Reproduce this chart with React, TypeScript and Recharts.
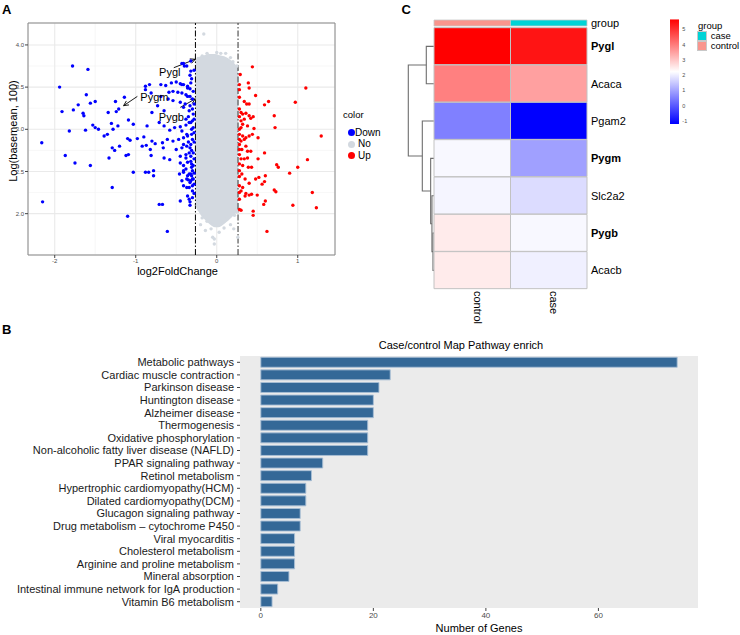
import React from 'react';
import {
  ComposedChart, ScatterChart, BarChart, Bar, Scatter, Area, XAxis, YAxis,
  CartesianGrid, ReferenceLine, ReferenceArea, ReferenceDot, Cell,
} from 'recharts';

const FONT = '"Liberation Sans", Arial, Helvetica, sans-serif';

// ---------------- Panel A : volcano-like scatter ----------------
const volcanoXTicks = [-2, -1, 0, 1];
const volcanoYTicks = [2, 2.5, 3, 3.5, 4];
const volcanoMinorX = [-1.5, -0.5, 0.5];
const volcanoMinorY = [2.25, 2.75, 3.25, 3.75];
const volcanoXDomain = [-2.33, 1.46];
const volcanoYDomain = [1.51, 4.26];
const foldThreshold = 0.263;

const downPoints: number[][] = [
  [-1.78, 3.75], [-1.59, 3.71], [-1.94, 3.5], [-1.61, 3.41], [-1.71, 3.29], [-1.56, 3.31], [-1.5, 3.33],
  [-1.91, 3.21], [-1.77, 3.23], [-1.65, 3.19], [-1.64, 3.16], [-1.25, 3.33], [-1.14, 3.38], [-1.34, 3.2],
  [-1.24, 3.21], [-1.21, 3.24], [-1.53, 3.05], [-1.5, 3.02], [-1.46, 3.0], [-1.82, 2.98], [-1.62, 2.99],
  [-1.3, 3.07], [-1.22, 3.04], [-1.28, 3.0], [-1.09, 3.11], [-1.03, 3.06], [-1.39, 2.92], [-1.35, 2.94],
  [-1.1, 2.89], [-1.07, 2.87], [-0.98, 2.89], [-2.16, 2.84], [-1.29, 2.78], [-1.26, 2.75], [-1.2, 2.8],
  [-1.33, 2.66], [-1.12, 2.69], [-1.09, 2.7], [-1.87, 2.69], [-1.75, 2.6], [-1.56, 2.57], [-1.03, 2.49],
  [-1.29, 2.31], [-2.15, 2.14], [-1.1, 1.97],
  [-0.43, 3.78], [-0.4, 3.75], [-0.32, 3.69], [-0.33, 3.64], [-0.31, 3.6],
  [-0.88, 3.51], [-0.83, 3.53], [-0.69, 3.53], [-0.63, 3.52], [-0.56, 3.55], [-0.5, 3.56],
  [-0.45, 3.54], [-0.41, 3.53], [-0.36, 3.51], [-0.33, 3.48],
  [-0.59, 3.44], [-0.54, 3.45], [-0.48, 3.44], [-0.43, 3.43], [-0.38, 3.41], [-0.33, 3.39],
  [-0.6, 3.36], [-0.54, 3.34], [-0.45, 3.32], [-0.39, 3.3], [-0.33, 3.28], [-0.3, 3.24],
  [-0.88, 3.47], [-0.81, 3.43], [-0.69, 3.39], [-0.73, 3.28], [-0.65, 3.22], [-0.8, 3.2],
  [-0.86, 3.04],
  [-0.71, 3.08], [-0.65, 3.04], [-0.58, 2.99], [-0.52, 3.02], [-0.45, 3.03], [-0.38, 3.05], [-0.34, 3.08], [-0.3, 3.1],
  [-0.9, 2.91],
  [-0.8, 2.86], [-0.76, 2.83], [-0.67, 2.84], [-0.61, 2.88], [-0.54, 2.86], [-0.47, 2.88], [-0.41, 2.9], [-0.36, 2.92], [-0.31, 2.94],
  [-0.92, 2.8], [-0.87, 2.81], [-0.82, 2.76], [-0.66, 2.78], [-0.5, 2.76], [-0.43, 2.78], [-0.37, 2.8], [-0.32, 2.82],
  [-0.81, 2.69], [-0.65, 2.66], [-0.58, 2.64], [-0.45, 2.68], [-0.38, 2.7], [-0.32, 2.68], [-0.34, 2.72],
  [-0.45, 2.6], [-0.41, 2.57], [-0.36, 2.61], [-0.31, 2.59], [-0.38, 2.53], [-0.3, 2.51],
  [-0.88, 2.49], [-0.84, 2.49], [-0.78, 2.51], [-0.78, 2.45], [-0.46, 2.47], [-0.41, 2.49], [-0.36, 2.45], [-0.32, 2.47],
  [-0.43, 2.39], [-0.37, 2.41], [-0.33, 2.37], [-0.3, 2.41], [-0.41, 2.33], [-0.34, 2.31], [-0.3, 2.33],
  [-0.36, 2.21], [-0.3, 2.19], [-0.45, 2.15], [-0.33, 2.14], [-0.33, 2.1],
  [-0.71, 2.11], [-0.67, 2.11], [-0.61, 1.79],
  [-0.41, 3.78], [-0.37, 3.75], [-0.32, 3.81],
  [-0.43, 3.53], [-0.36, 3.49], [-0.32, 3.55], [-0.29, 3.45], [-0.36, 3.39], [-0.3, 3.36],
  [-0.41, 3.26], [-0.34, 3.22], [-0.29, 3.18], [-0.38, 3.12], [-0.32, 3.08], [-0.29, 3.02],
  [-0.43, 2.98], [-0.37, 2.94], [-0.3, 2.88], [-0.41, 2.82], [-0.33, 2.78], [-0.29, 2.72],
  [-0.38, 2.66], [-0.32, 2.62], [-0.29, 2.57], [-0.41, 2.51], [-0.34, 2.47], [-0.29, 2.41],
  [-0.37, 2.31], [-0.3, 2.27], [-0.34, 2.17], [-0.32, 2.39],
  [-0.28, 3.7], [-0.28, 3.3], [-0.28, 3.12], [-0.28, 2.96], [-0.28, 2.85], [-0.28, 2.65], [-0.28, 2.48],
  [-0.28, 2.35], [-0.28, 2.24], [-0.31, 3.0], [-0.31, 2.75], [-0.31, 2.55], [-0.31, 2.45], [-0.35, 2.85],
  [-0.35, 3.15], [-0.35, 2.4],
];

const upPoints: number[][] = [
  [0.44, 3.74], [0.29, 3.65], [0.39, 3.55], [0.28, 3.53], [0.4, 3.49], [0.28, 3.47], [1.1, 3.49], [0.48, 3.4],
  [0.34, 3.33], [0.37, 3.3], [0.4, 3.3], [0.64, 3.33], [0.59, 3.29], [0.97, 3.32],
  [0.28, 3.24], [0.3, 3.2], [0.71, 3.16],
  [0.28, 3.15], [0.32, 3.18], [0.36, 3.19], [0.4, 3.16], [0.45, 3.15], [0.34, 3.12], [0.42, 3.13], [0.3, 3.1],
  [0.32, 3.06], [0.38, 3.04], [0.3, 3.02], [0.46, 3.01], [0.72, 3.02],
  [1.29, 2.92],
  [0.28, 2.94], [0.32, 2.92], [0.36, 2.9], [0.4, 2.92], [0.44, 2.94], [0.51, 2.9], [0.3, 2.86], [0.34, 2.88],
  [0.28, 2.82], [0.36, 2.8], [0.31, 2.76], [0.38, 2.74], [0.42, 2.74],
  [0.59, 2.72],
  [0.28, 2.7], [0.3, 2.65], [0.34, 2.65], [0.38, 2.66], [0.51, 2.65],
  [1.12, 2.64],
  [0.28, 2.59], [0.32, 2.57], [0.39, 2.55], [0.43, 2.55], [0.74, 2.58], [0.76, 2.55], [1.0, 2.55],
  [0.28, 2.51], [0.31, 2.47], [0.9, 2.48],
  [0.6, 2.45], [0.48, 2.41], [0.52, 2.43], [0.35, 2.41], [0.4, 2.36], [0.59, 2.38], [0.56, 2.35],
  [0.28, 2.33], [0.32, 2.31], [0.3, 2.27], [0.36, 2.24], [0.4, 2.22], [0.43, 2.23], [0.35, 2.21], [0.5, 2.22],
  [0.71, 2.28], [0.73, 2.26], [1.18, 2.25],
  [0.28, 2.17], [0.6, 2.15], [0.58, 2.11], [0.94, 2.1], [1.23, 2.07],
  [0.28, 2.05], [0.3, 2.04], [0.45, 2.03], [0.45, 1.98],
  [0.62, 1.79],
  [0.28, 3.38], [0.28, 3.0], [0.28, 2.88], [0.28, 2.76], [0.28, 2.44], [0.28, 2.25],
];

const noPoints: number[][] = [
  [-0.16, 4.13], [0.0, 3.91], [0.11, 3.9], [-0.18, 3.87], [0.17, 3.85], [-0.12, 3.9], [0.05, 3.9],
  [-0.23, 3.84], [0.2, 3.8], [0.25, 3.75],
  [-0.22, 2.05], [-0.18, 1.95], [-0.12, 1.91], [-0.2, 1.87], [-0.03, 1.87], [0.05, 1.91], [0.13, 1.95],
  [0.17, 1.87], [0.21, 1.99], [-0.14, 1.8], [-0.07, 1.82], [0.03, 1.78], [0.09, 1.83], [-0.05, 1.72],
  [-0.03, 1.64], [-0.03, 1.7], [0.26, 1.72], [0.21, 1.82], [-0.24, 2.1], [0.22, 1.98], [0.25, 2.02],
];

const cloudX = [-0.264, -0.22, -0.18, -0.14, -0.1, -0.06, -0.02, 0.02, 0.06, 0.1, 0.14, 0.18, 0.22, 0.264];
const cloudLow = [2.12, 2.04, 1.98, 1.94, 1.9, 1.87, 1.85, 1.85, 1.87, 1.9, 1.93, 1.97, 2.01, 2.05];
const cloudHigh = [3.8, 3.84, 3.86, 3.87, 3.88, 3.88, 3.88, 3.87, 3.86, 3.85, 3.83, 3.8, 3.76, 3.7];

const annotGenes = ['Pygl', 'Pygm', 'Pygb'];
const annotLabelX = [-0.58, -0.77, -0.56];
const annotLabelY = [3.68, 3.385, 3.15];
const arrowFromX = [-0.53, -0.98, -0.45];
const arrowFromY = [3.73, 3.39, 3.26];
const arrowToX = [-0.265, -1.15, -0.265];
const arrowToY = [3.83, 3.28, 3.36];

const legendA = ['Down', 'No', 'Up'];
const colorDown = '#0000FF';
const colorNo = '#D3D9E0';
const colorUp = '#FF0000';

// ---------------- Panel B : pathway bar chart ----------------
const pathwayNames = [
  'Metabolic pathways', 'Cardiac muscle contraction', 'Parkinson disease', 'Huntington disease',
  'Alzheimer disease', 'Thermogenesis', 'Oxidative phosphorylation',
  'Non-alcoholic fatty liver disease (NAFLD)', 'PPAR signaling pathway', 'Retinol metabolism',
  'Hypertrophic cardiomyopathy(HCM)', 'Dilated cardiomyopathy(DCM)', 'Glucagon signaling pathway',
  'Drug metabolism \u2013 cytochrome P450', 'Viral myocarditis', 'Cholesterol metabolism',
  'Arginine and proline metabolism', 'Mineral absorption',
  'Intestinal immune network for IgA production', 'Vitamin B6 metabolism',
];
const pathwayCounts = [74, 23, 21, 20, 20, 19, 19, 19, 11, 9, 8, 8, 7, 7, 6, 6, 6, 5, 3, 2];
const pathwayTicks = [0, 20, 40, 60];
const pathwayDomain = [-3.7, 77.7];

// ---------------- Panel C : heatmap ----------------
const heatGenes = ['Pygl', 'Acaca', 'Pgam2', 'Pygm', 'Slc2a2', 'Pygb', 'Acacb'];
const boldGenes = ['Pygl', 'Pygm', 'Pygb'];
const heatColumns = ['control', 'case'];
const controlExpr = [5.67, 3.95, 0.52, 2.14, 2.1, 2.5, 2.5];
const caseExpr = [5.4, 3.51, -1.2, 0.96, 1.76, 2.14, 2.03];
const heatLegendTicks = [-1, 0, 1, 2, 3, 4, 5];
const groupNames = ['case', 'control'];
const groupColors = ['#00D3D6', '#F9958D'];

// dendrogram: [height, rowPosition] polylines (rows 0..6 top to bottom)
const dendroSegments: number[][][] = [
  [[0, 0], [3.0, 0], [3.0, 1], [0, 1]],
  [[0, 5], [0.4, 5], [0.4, 6], [0, 6]],
  [[0, 4], [0.8, 4], [0.8, 5.5], [0.4, 5.5]],
  [[0, 3], [1.3, 3], [1.3, 4.75], [0.8, 4.75]],
  [[0, 2], [4.55, 2], [4.55, 3.875], [1.3, 3.875]],
  [[3.0, 0.5], [10, 0.5], [10, 2.9375], [4.55, 2.9375]],
];

const heatMin = Math.min(...controlExpr, ...caseExpr);
const heatMax = Math.max(...controlExpr, ...caseExpr);
function heatColor(v: number): string {
  const t = (v - heatMin) / (heatMax - heatMin);
  if (t < 0.5) {
    const c = Math.round(255 * (t / 0.5));
    return `rgb(${c},${c},255)`;
  }
  const c = Math.round(255 * (1 - (t - 0.5) / 0.5));
  return `rgb(255,${c},${c})`;
}

// ---------------- helpers ----------------
const toXY = (arr: number[][]) => arr.map(([x, y]) => ({ x, y }));
const dot = (color: string) => (p: any) => <circle cx={p.cx} cy={p.cy} r={1.7} fill={color} />;

const Arrow = (p: any) => {
  const { x1, y1, x2, y2 } = p;
  const ang = Math.atan2(y2 - y1, x2 - x1);
  const L = 5.5, w = 0.45;
  const a1 = `${x2 - L * Math.cos(ang - w)},${y2 - L * Math.sin(ang - w)}`;
  const a2 = `${x2 - L * Math.cos(ang + w)},${y2 - L * Math.sin(ang + w)}`;
  return (
    <g>
      <line x1={x1} y1={y1} x2={x2} y2={y2} stroke="#000" strokeWidth={0.9} />
      <polyline points={`${a1} ${x2},${y2} ${a2}`} fill="none" stroke="#000" strokeWidth={0.9} />
    </g>
  );
};

const GeneTick = (p: any) => {
  const name = p.payload.value;
  return (
    <text x={p.x} y={p.y} dy="0.36em" textAnchor="start" fontSize={11} fill="#000"
      fontWeight={boldGenes.includes(name) ? 700 : 400}>{name}</text>
  );
};

const PathwayTick = (p: any) => (
  <text x={p.x} y={p.y} dy="0.36em" textAnchor="end" fontSize={11} fill="#1a1a1a">{p.payload.value}</text>
);

const abs = (left: number, top: number, extra: React.CSSProperties = {}): React.CSSProperties => ({
  position: 'absolute', left, top, whiteSpace: 'nowrap', lineHeight: 1, ...extra,
});

export default function App() {
  const cloudData = cloudX.map((x, i) => ({ x, range: [cloudLow[i], cloudHigh[i]] }));
  const pathwayData = pathwayNames.map((name, i) => ({ name, count: pathwayCounts[i] }));
  const heatData = heatGenes.map((gene) => ({ gene, controlCell: 1, caseCell: 1 }));
  const groupData = [{ g: 'group', controlCell: 1, caseCell: 1 }];
  const legendData = [{ k: 'scale', range: [heatMin, heatMax] }];
  const legendAColors = [colorDown, colorNo, colorUp];

  return (
    <div style={{ position: 'absolute', left: 0, top: 0, width: 740, height: 635, background: '#fff', fontFamily: FONT, overflow: 'hidden' }}>
      {/* Panel A */}
      <div style={abs(0, 0)}>
        <ComposedChart width={380} height={290} margin={{ top: 23, right: 45, bottom: 34, left: 27 }}>
          <CartesianGrid verticalValues={volcanoMinorX} horizontalValues={volcanoMinorY} stroke="#F3F3F3" strokeWidth={0.7} />
          <CartesianGrid stroke="#EAEAEA" strokeWidth={1.1} />
          <XAxis type="number" dataKey="x" domain={volcanoXDomain} ticks={volcanoXTicks} allowDataOverflow
            height={1} axisLine={false} tickSize={3} tickMargin={1} tickLine={{ stroke: '#444' }}
            tick={{ fontSize: 6, fill: '#4d4d4d' }} />
          <YAxis type="number" dataKey="y" domain={volcanoYDomain} ticks={volcanoYTicks} allowDataOverflow
            width={1} axisLine={false} tickSize={3} tickMargin={1} tickLine={{ stroke: '#444' }}
            tickFormatter={(v: number) => v.toFixed(1)} tick={{ fontSize: 6, fill: '#4d4d4d' }} />
          <Area data={cloudData} dataKey="range" type="monotone" fill={colorNo} stroke={colorNo}
            fillOpacity={1} strokeWidth={2} dot={false} activeDot={false} isAnimationActive={false} />
          <Scatter data={toXY(noPoints)} dataKey="y" shape={dot(colorNo)} isAnimationActive={false} />
          <Scatter data={toXY(downPoints)} dataKey="y" shape={dot(colorDown)} isAnimationActive={false} />
          <Scatter data={toXY(upPoints)} dataKey="y" shape={dot(colorUp)} isAnimationActive={false} />
          <ReferenceLine x={-foldThreshold} stroke="#000" strokeWidth={1} strokeDasharray="6 2 1.5 2" />
          <ReferenceLine x={foldThreshold} stroke="#333" strokeWidth={1} strokeDasharray="6 2 1.5 2" />
          {annotGenes.map((g, i) => (
            <ReferenceLine key={'ar' + g}
              segment={[{ x: arrowFromX[i], y: arrowFromY[i] }, { x: arrowToX[i], y: arrowToY[i] }]}
              shape={Arrow} />
          ))}
          {annotGenes.map((g, i) => (
            <ReferenceDot key={'lb' + g} x={annotLabelX[i]} y={annotLabelY[i]} r={0}
              shape={(p: any) => (
                <text x={p.cx} y={p.cy} dy="0.36em" textAnchor="middle" fontSize={11} fill="#000">{g}</text>
              )} />
          ))}
          <ReferenceArea x1={volcanoXDomain[0]} x2={volcanoXDomain[1]} y1={volcanoYDomain[0]} y2={volcanoYDomain[1]}
            fill="none" fillOpacity={0} stroke="#8a8a8a" strokeWidth={1} />
        </ComposedChart>
      </div>
      <div style={abs(2, 3, { fontSize: 13, fontWeight: 700 })}>A</div>
      <div style={abs(177.5, 265.5, { fontSize: 11, transform: 'translateX(-50%)' })}>log2FoldChange</div>
      <div style={abs(12.5, 131, { fontSize: 11, transform: 'translate(-50%,-50%) rotate(-90deg)' })}>Log(basemean, 100)</div>
      <div style={abs(343, 109.5, { fontSize: 9.5 })}>color</div>
      {legendA.map((name, i) => (
        <React.Fragment key={name}>
          <div style={abs(347.5, 129.2 + i * 11.5, { width: 7, height: 7, borderRadius: '50%', background: legendAColors[i] })} />
          <div style={abs(i === 0 ? 355 : 358, 127.7 + i * 11.5, { fontSize: 10 })}>{name}</div>
        </React.Fragment>
      ))}

      {/* Panel C */}
      <div style={abs(400, 0)}>
        <ScatterChart width={40} height={300} margin={{ top: 27.7, right: 6, bottom: 11, left: 8.3 }}>
          <XAxis type="number" dataKey="h" domain={[0, 10]} reversed hide />
          <YAxis type="number" dataKey="r" domain={[-0.5, 6.5]} reversed hide />
          {dendroSegments.map((seg, i) => (
            <Scatter key={'d' + i} data={seg.map(([h, r]) => ({ h, r }))} dataKey="r"
              line={{ stroke: '#6e6e6e', strokeWidth: 1.1 }} shape={() => <g />} isAnimationActive={false} />
          ))}
        </ScatterChart>
      </div>
      <div style={abs(400, 0)}>
        <BarChart layout="vertical" width={340} height={30} data={groupData} barCategoryGap={0}
          margin={{ top: 20, right: 152, bottom: 4.5, left: 34 }}>
          <XAxis type="number" domain={[0, 2]} hide />
          <YAxis type="category" dataKey="g" orientation="right" width={1} axisLine={false} tickLine={false}
            tickSize={0} tickMargin={4} tick={{ fontSize: 11, fill: '#000' }} />
          <Bar dataKey="controlCell" stackId="g" fill={groupColors[1]} stroke="#C8C8C8" strokeWidth={0.8} isAnimationActive={false} />
          <Bar dataKey="caseCell" stackId="g" fill={groupColors[0]} stroke="#C8C8C8" strokeWidth={0.8} isAnimationActive={false} />
        </BarChart>
      </div>
      <div style={abs(400, 0)}>
        <BarChart layout="vertical" width={340} height={300} data={heatData} barCategoryGap={0}
          margin={{ top: 27.7, right: 152, bottom: 11, left: 34 }}>
          <XAxis type="number" domain={[0, 2]} hide />
          <YAxis type="category" dataKey="gene" orientation="right" width={1} axisLine={false} tickLine={false}
            tickSize={0} tickMargin={4} interval={0} tick={<GeneTick />} />
          <Bar dataKey="controlCell" stackId="h" isAnimationActive={false}>
            {controlExpr.map((v, i) => (
              <Cell key={'c' + i} fill={heatColor(v)} stroke="#C2C2C2" strokeWidth={1} />
            ))}
          </Bar>
          <Bar dataKey="caseCell" stackId="h" isAnimationActive={false}>
            {caseExpr.map((v, i) => (
              <Cell key={'s' + i} fill={heatColor(v)} stroke="#C2C2C2" strokeWidth={1} />
            ))}
          </Bar>
        </BarChart>
      </div>
      <div style={abs(660, 0)}>
        <BarChart width={40} height={140} data={legendData} barCategoryGap={0}
          margin={{ top: 19.3, right: 19.7, bottom: 16, left: 10 }}>
          <defs>
            <linearGradient id="hmGrad" x1="0" y1="0" x2="0" y2="1">
              <stop offset="0%" stopColor={heatColor(heatMax)} />
              <stop offset="50%" stopColor={heatColor((heatMin + heatMax) / 2)} />
              <stop offset="100%" stopColor={heatColor(heatMin)} />
            </linearGradient>
          </defs>
          <XAxis dataKey="k" hide />
          <YAxis type="number" domain={[heatMin, heatMax]} ticks={heatLegendTicks} orientation="right" width={1}
            allowDataOverflow axisLine={false} tickLine={false} tickSize={0} tickMargin={3}
            tick={{ fontSize: 5.5, fill: '#4d4d4d' }} />
          <Bar dataKey="range" fill="url(#hmGrad)" isAnimationActive={false} />
        </BarChart>
      </div>
      <div style={abs(401.5, 2.5, { fontSize: 13, fontWeight: 700 })}>C</div>
      <div style={abs(698, 20.5, { fontSize: 9.5 })}>group</div>
      {groupNames.map((name, i) => (
        <React.Fragment key={name}>
          <div style={abs(696.7, 31.2 + i * 10, { width: 10, height: 10, background: groupColors[i], boxSizing: 'border-box', border: '0.8px solid #C8C8C8' })} />
          <div style={abs(710.7, 31 + i * 10, { fontSize: 9.5 })}>{name}</div>
        </React.Fragment>
      ))}

      {/* Panel B */}
      <div style={abs(0, 300)}>
        <BarChart layout="vertical" width={740} height={335} data={pathwayData} barCategoryGap="10%"
          margin={{ top: 56, right: 42, bottom: 26, left: 239 }}>
          <CartesianGrid fill="#EBEBEB" horizontal={false} vertical={false} />
          <XAxis type="number" domain={pathwayDomain} ticks={pathwayTicks} allowDataOverflow height={1}
            axisLine={false} tickSize={3} tickMargin={1} tickLine={{ stroke: '#444' }}
            tick={{ fontSize: 8, fill: '#4d4d4d' }} />
          <YAxis type="category" dataKey="name" width={1} axisLine={false} interval={0} tickSize={3}
            tickMargin={3} tickLine={{ stroke: '#444' }} tick={<PathwayTick />} />
          <Bar dataKey="count" fill="#346897" stroke="#A9C0D6" strokeWidth={0.9} isAnimationActive={false} />
        </BarChart>
      </div>
      <div style={abs(2, 322.5, { fontSize: 13, fontWeight: 700 })}>B</div>
      <div style={abs(461, 339.5, { fontSize: 11, transform: 'translateX(-50%)' })}>Case/control Map Pathway enrich</div>
      <div style={abs(479, 623, { fontSize: 11, transform: 'translateX(-50%)' })}>Number of Genes</div>
      {heatColumns.map((name, i) => (
        <div key={name} style={abs(472 + i * 76, 291, { fontSize: 11, writingMode: 'vertical-rl' as any })}>{name}</div>
      ))}
    </div>
  );
}
